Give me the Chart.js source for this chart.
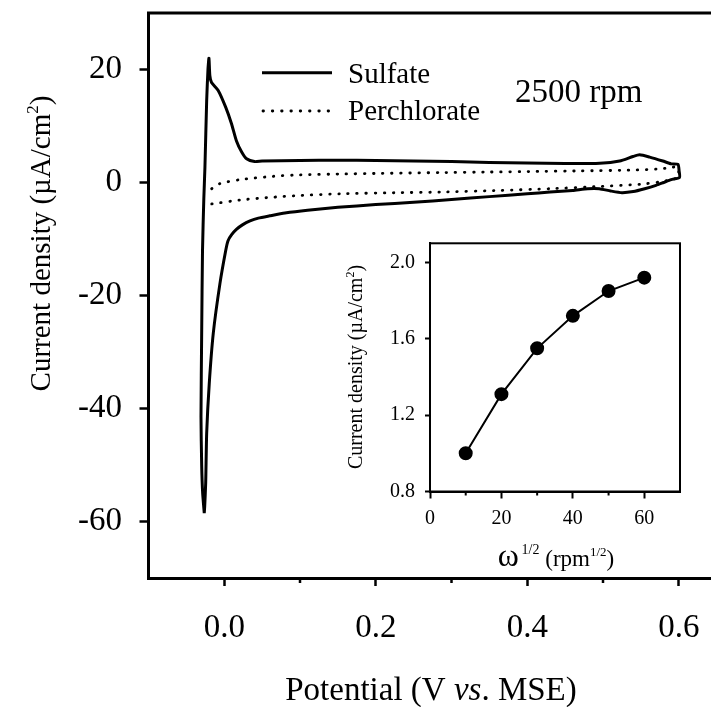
<!DOCTYPE html>
<html>
<head>
<meta charset="utf-8">
<script src="https://cdn.jsdelivr.net/npm/chart.js@4.4.0/dist/chart.umd.min.js"></script>
<style>
  html, body { margin: 0; padding: 0; background: #fff; overflow: hidden; }
  #wrap { position: relative; width: 711px; height: 707px; overflow: hidden; background: #fff; }
  #main { position: absolute; left: 0; top: 0; }
  #inset { position: absolute; left: 320px; top: 235px; }
</style>
</head>
<body>
<div id="wrap">
  <canvas id="main" width="760" height="707"></canvas>
  <canvas id="inset" width="380" height="340"></canvas>
</div>
<script>
// ---- data ----
// sulfate CV loop (V vs MSE, uA/cm2), drawn in scan order
var sulfateV = [
  -0.0264, -0.0285, -0.0298, -0.0307, -0.0298, -0.0287, -0.0270, -0.0255, -0.0232, -0.0215, -0.0202,
  -0.0190, -0.0168, -0.0080, 0.0020, 0.0096, 0.0160, 0.0230, 0.0295, 0.0400, 0.05, 0.10, 0.15, 0.20,
  0.25, 0.30, 0.35, 0.40, 0.45, 0.4957, 0.522, 0.5396, 0.5484, 0.5616, 0.579, 0.590, 0.599,
  0.6005, 0.601,
  0.59, 0.58, 0.57, 0.555, 0.54, 0.525, 0.51, 0.495, 0.48, 0.46, 0.43, 0.40, 0.35, 0.30, 0.25, 0.20,
  0.15, 0.11, 0.08, 0.06, 0.045, 0.034, 0.024, 0.016, 0.010, 0.005, 0.002, -0.0057, -0.0145, -0.0198,
  -0.0232, -0.0245, -0.0258, -0.0264
];
var sulfateI = [
  -58.5, -55, -50, -41.5, -26.7, -12, -3, 2.7, 14.5, 20, 22.0,
  18.9, 17.7, 16.3, 13.3, 10.4, 7.4, 5.4, 4.2, 3.7, 3.8, 3.9, 3.95, 3.9,
  3.8, 3.7, 3.55, 3.45, 3.35, 3.4, 3.8, 4.6, 4.9, 4.5, 3.8, 3.3, 3.2,
  2.0, 0.9,
  0.5, 0.0, -0.5, -1.1, -1.6, -1.8, -1.5, -1.1, -1.1, -1.4, -1.7, -2.0, -2.5, -3.0, -3.5, -3.9,
  -4.4, -4.9, -5.4, -5.9, -6.3, -6.8, -7.5, -8.3, -9.2, -10.3, -12, -17.9, -26.7, -35.6,
  -44.4, -53.2, -57.3, -58.5
];
// perchlorate CV (open loop)
var perchlorateV = [
  -0.0166, -0.0057, 0.0207, 0.0646, 0.10, 0.153, 0.20, 0.285, 0.35, 0.408, 0.47, 0.54, 0.575, 0.592,
  0.5986, 0.600, 0.599, 0.59, 0.575, 0.55, 0.496, 0.43, 0.364, 0.285, 0.232, 0.153, 0.10, 0.0646,
  0.0207, -0.0166
];
var perchlorateI = [
  -1.1, -0.2, 0.5, 1.1, 1.35, 1.5, 1.6, 1.75, 1.85, 1.95, 2.05, 2.2, 2.4, 2.7,
  2.8, 1.8, 0.9, 0.5, 0.1, -0.3, -0.7, -1.1, -1.4, -1.7, -1.8, -2.0, -2.3, -2.6,
  -3.1, -3.8
];
// inset: limiting current vs sqrt(rotation rate)
var omegaHalf = [10, 20, 30, 40, 50, 60];
var insetCurrent = [1.00, 1.31, 1.55, 1.72, 1.85, 1.92];

// ticks
var xTicks = [0, 0.2, 0.4, 0.6];
var xMinorTicks = [0.1, 0.3, 0.5];
var yTicks = [-60, -40, -20, 0, 20];
var insetXTicks = [0, 20, 40, 60];
var insetXMinorTicks = [10, 30, 50];
var insetYTicks = [0.8, 1.2, 1.6, 2.0];

var SERIF = "'Liberation Serif', 'Times New Roman', serif";

function toPoints(xs, ys) {
  return xs.map(function (x, i) { return { x: x, y: ys[i] }; });
}

// draws a row of text runs (for superscripts / italics), centred on x
function drawRuns(ctx, runs, x, y) {
  var total = 0;
  runs.forEach(function (r) {
    ctx.font = r.f;
    total += ctx.measureText(r.t).width;
  });
  var cx = x - total / 2;
  ctx.textAlign = 'left';
  ctx.textBaseline = 'alphabetic';
  runs.forEach(function (r) {
    ctx.font = r.f;
    ctx.fillText(r.t, cx, y + (r.dy || 0));
    cx += ctx.measureText(r.t).width;
  });
}

// keep the chart area where the picture has it (no label padding)
function fixWidth(w) {
  return function (s) { s.width = w; s.paddingTop = 0; s.paddingBottom = 0; };
}
function fixHeight(h) {
  return function (s) { s.height = h; s.paddingLeft = 0; s.paddingRight = 0; };
}

var mainDecor = {
  id: 'mainDecor',
  afterDraw: function (chart) {
    var ctx = chart.ctx, a = chart.chartArea;
    var xs = chart.scales.x;
    ctx.save();
    ctx.strokeStyle = '#000';
    ctx.fillStyle = '#000';
    // top frame line
    ctx.lineWidth = 3;
    ctx.beginPath();
    ctx.moveTo(a.left - 1.5, a.top);
    ctx.lineTo(a.right, a.top);
    ctx.stroke();
    // minor x ticks
    ctx.lineWidth = 2.5;
    xMinorTicks.forEach(function (v) {
      var px = xs.getPixelForValue(v);
      ctx.beginPath();
      ctx.moveTo(px, a.bottom);
      ctx.lineTo(px, a.bottom + 5);
      ctx.stroke();
    });
    // legend
    ctx.lineWidth = 3;
    ctx.beginPath();
    ctx.moveTo(262, 72.7);
    ctx.lineTo(332, 72.7);
    ctx.stroke();
    ctx.lineWidth = 2.8;
    ctx.lineCap = 'round';
    ctx.setLineDash([0.5, 8.8]);
    ctx.beginPath();
    ctx.moveTo(263, 111);
    ctx.lineTo(330, 111);
    ctx.stroke();
    ctx.setLineDash([]);
    ctx.lineCap = 'butt';
    ctx.textAlign = 'left';
    ctx.textBaseline = 'alphabetic';
    ctx.font = '29px ' + SERIF;
    ctx.fillText('Sulfate', 348, 83);
    ctx.fillText('Perchlorate', 348, 120);
    ctx.font = '33px ' + SERIF;
    ctx.fillText('2500 rpm', 515, 101.5);
    // x title
    drawRuns(ctx, [
      { t: 'Potential (V ', f: '33px ' + SERIF },
      { t: 'vs', f: 'italic 33px ' + SERIF },
      { t: '. MSE)', f: '33px ' + SERIF }
    ], 431, 700);
    // y title
    ctx.translate(50, 243.5);
    ctx.rotate(-Math.PI / 2);
    drawRuns(ctx, [
      { t: 'Current density (µA/cm', f: '29px ' + SERIF },
      { t: '2', f: '17px ' + SERIF, dy: -12 },
      { t: ')', f: '29px ' + SERIF }
    ], 0, 0);
    ctx.restore();
  }
};

new Chart(document.getElementById('main'), {
  type: 'scatter',
  data: {
    datasets: [
      {
        label: 'Sulfate',
        data: toPoints(sulfateV, sulfateI),
        showLine: true,
        borderColor: '#000',
        borderWidth: 3,
        pointRadius: 0,
        tension: 0.2
      },
      {
        label: 'Perchlorate',
        data: toPoints(perchlorateV, perchlorateI),
        showLine: true,
        borderColor: '#000',
        borderWidth: 2.8,
        borderDash: [0.5, 8.6],
        borderCapStyle: 'round',
        pointRadius: 0,
        tension: 0.2
      }
    ]
  },
  options: {
    responsive: false,
    animation: false,
    devicePixelRatio: 1,
    layout: { padding: { left: 0, top: 13, right: 5.5, bottom: 0 } },
    plugins: { legend: { display: false }, tooltip: { enabled: false } },
    scales: {
      x: {
        type: 'linear',
        min: -0.1,
        max: 0.7,
        afterFit: fixHeight(129),
        afterBuildTicks: function (s) { s.ticks = xTicks.map(function (v) { return { value: v }; }); },
        ticks: {
          color: '#000',
          font: { family: SERIF, size: 33, lineHeight: 1 },
          padding: 26,
          maxRotation: 0,
          autoSkip: false,
          callback: function (v) { return v.toFixed(1); }
        },
        grid: { drawOnChartArea: false, drawTicks: true, tickLength: 8, tickWidth: 2.5, tickColor: '#000' },
        border: { display: true, width: 3, color: '#000' }
      },
      y: {
        type: 'linear',
        min: -70,
        max: 30,
        afterFit: fixWidth(148.5),
        afterBuildTicks: function (s) { s.ticks = yTicks.map(function (v) { return { value: v }; }); },
        ticks: {
          color: '#000',
          font: { family: SERIF, size: 33, lineHeight: 0.7 },
          padding: 17.5,
          autoSkip: false,
          callback: function (v) { return String(v); }
        },
        grid: { drawOnChartArea: false, drawTicks: true, tickLength: 9, tickWidth: 2.5, tickColor: '#000' },
        border: { display: true, width: 3, color: '#000' }
      }
    }
  },
  plugins: [mainDecor]
});

var insetDecor = {
  id: 'insetDecor',
  afterDraw: function (chart) {
    var ctx = chart.ctx, a = chart.chartArea;
    var xs = chart.scales.x;
    ctx.save();
    ctx.strokeStyle = '#000';
    ctx.fillStyle = '#000';
    ctx.lineWidth = 2;
    ctx.strokeRect(a.left, a.top, a.right - a.left, a.bottom - a.top);
    insetXMinorTicks.forEach(function (v) {
      var px = xs.getPixelForValue(v);
      ctx.beginPath();
      ctx.moveTo(px, a.bottom);
      ctx.lineTo(px, a.bottom + 4);
      ctx.stroke();
    });
    // x title
    drawRuns(ctx, [
      { t: 'ω', f: '32px ' + SERIF },
      { t: '\u20091/2', f: '14px ' + SERIF, dy: -12 },
      { t: ' (rpm', f: '23px ' + SERIF },
      { t: '1/2', f: '13px ' + SERIF, dy: -10 },
      { t: ')', f: '23px ' + SERIF }
    ], 236, 331);
    // y title
    ctx.translate(42, 132);
    ctx.rotate(-Math.PI / 2);
    drawRuns(ctx, [
      { t: 'Current density (µA/cm', f: '20px ' + SERIF },
      { t: '2', f: '12px ' + SERIF, dy: -8 },
      { t: ')', f: '20px ' + SERIF }
    ], 0, 0);
    ctx.restore();
  }
};

new Chart(document.getElementById('inset'), {
  type: 'scatter',
  data: {
    datasets: [{
      label: 'inset',
      data: toPoints(omegaHalf, insetCurrent),
      showLine: true,
      borderColor: '#000',
      borderWidth: 2,
      pointRadius: 6,
      pointBackgroundColor: '#000',
      pointBorderColor: '#000',
      tension: 0
    }]
  },
  options: {
    responsive: false,
    animation: false,
    devicePixelRatio: 1,
    layout: { padding: { left: 0, top: 8.3, right: 20, bottom: 0 } },
    plugins: { legend: { display: false }, tooltip: { enabled: false } },
    scales: {
      x: {
        type: 'linear',
        min: 0,
        max: 70,
        afterFit: fixHeight(83.5),
        afterBuildTicks: function (s) { s.ticks = insetXTicks.map(function (v) { return { value: v }; }); },
        ticks: {
          color: '#000',
          font: { family: SERIF, size: 20, lineHeight: 1 },
          padding: 10,
          maxRotation: 0,
          autoSkip: false,
          callback: function (v) { return String(v); }
        },
        grid: { drawOnChartArea: false, drawTicks: true, tickLength: 7, tickWidth: 2, tickColor: '#000' },
        border: { display: true, width: 2, color: '#000' }
      },
      y: {
        type: 'linear',
        min: 0.8,
        max: 2.1,
        afterFit: fixWidth(110),
        afterBuildTicks: function (s) { s.ticks = insetYTicks.map(function (v) { return { value: v }; }); },
        ticks: {
          color: '#000',
          font: { family: SERIF, size: 20, lineHeight: 0.7 },
          padding: 10,
          autoSkip: false,
          callback: function (v) { return v.toFixed(1); }
        },
        grid: { drawOnChartArea: false, drawTicks: true, tickLength: 5, tickWidth: 2, tickColor: '#000' },
        border: { display: true, width: 2, color: '#000' }
      }
    }
  },
  plugins: [insetDecor]
});
</script>
</body>
</html>
